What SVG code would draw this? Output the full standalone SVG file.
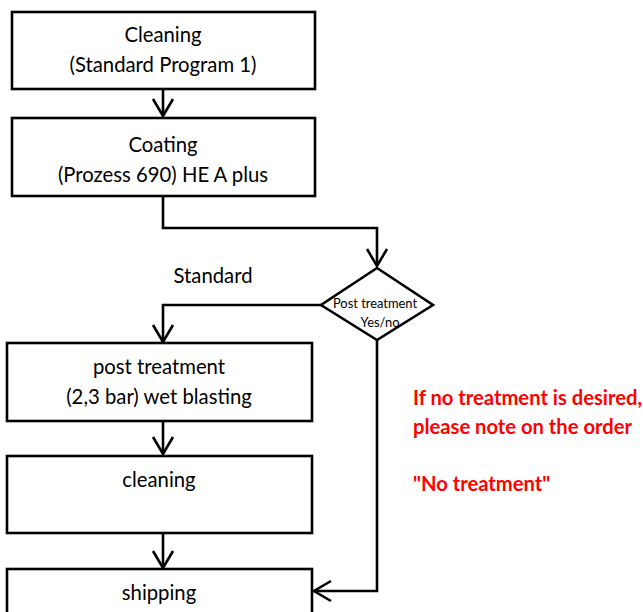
<svg xmlns="http://www.w3.org/2000/svg" width="643" height="612" viewBox="0 0 643 612">
<defs>
<style>
.box{fill:#fff;stroke:#000;stroke-width:2.6}
.t{font-family:Lato,"Liberation Sans",sans-serif;font-size:20.3px;fill:#000;text-anchor:middle}
.s{font-family:Lato,"Liberation Sans",sans-serif;font-size:12.9px;fill:#000;text-anchor:middle}
.r{font-family:Lato,"Liberation Sans",sans-serif;font-size:20.2px;font-weight:bold;fill:#ff0000}
.c{fill:none;stroke:#000;stroke-width:2.6}
</style>
<marker id="ah" markerUnits="userSpaceOnUse" viewBox="-20 -12 22 24" refX="0" refY="0" markerWidth="22" markerHeight="24" orient="auto" overflow="visible">
<path d="M-17,-10 L0,0 L-17,10" fill="none" stroke="#000" stroke-width="2.6"/>
</marker>
</defs>
<rect width="643" height="612" fill="#fff"/>
<g id="connectors">
<path class="c" d="M163,89 V116" marker-end="url(#ah)"/>
<path class="c" d="M163,196 V228 H377 V266" marker-end="url(#ah)"/>
<path class="c" d="M321,305 H163 V342" marker-end="url(#ah)"/>
<path class="c" d="M163,421 V454" marker-end="url(#ah)"/>
<path class="c" d="M163,533 V568" marker-end="url(#ah)"/>
<path class="c" d="M377,340 V591 H314" marker-end="url(#ah)"/>
</g>
<g id="cleaning1">
<rect class="box" x="12" y="12" width="303" height="77"/>
<text class="t" x="163" y="42">Cleaning</text>
<text class="t" x="163" y="72">(Standard Program 1)</text>
</g>
<g id="coating">
<rect class="box" x="12" y="118" width="303" height="78"/>
<text class="t" x="163" y="152">Coating</text>
<text class="t" x="163" y="182">(Prozess 690) HE A plus</text>
</g>
<g id="decision">
<polygon class="box" points="377,268 433,305 377,340 321,305"/>
<text class="s" x="375" y="308">Post treatment</text>
<text class="s" x="380" y="327">Yes/no</text>
</g>
<g id="standard-label">
<text class="t" x="213" y="283">Standard</text>
</g>
<g id="post-treatment">
<rect class="box" x="7" y="343" width="305" height="78"/>
<text class="t" x="159" y="374">post treatment</text>
<text class="t" x="159" y="404">(2,3 bar) wet blasting</text>
</g>
<g id="cleaning2">
<rect class="box" x="7" y="456" width="305" height="77"/>
<text class="t" x="159" y="487">cleaning</text>
</g>
<g id="shipping">
<rect class="box" x="7" y="569" width="305" height="60"/>
<text class="t" x="159" y="600">shipping</text>
</g>
<g id="note">
<text class="r" x="413" y="405">If no treatment is desired,</text>
<text class="r" x="413" y="434">please note on the order</text>
<text class="r" x="413" y="491">"No treatment"</text>
</g>
</svg>
